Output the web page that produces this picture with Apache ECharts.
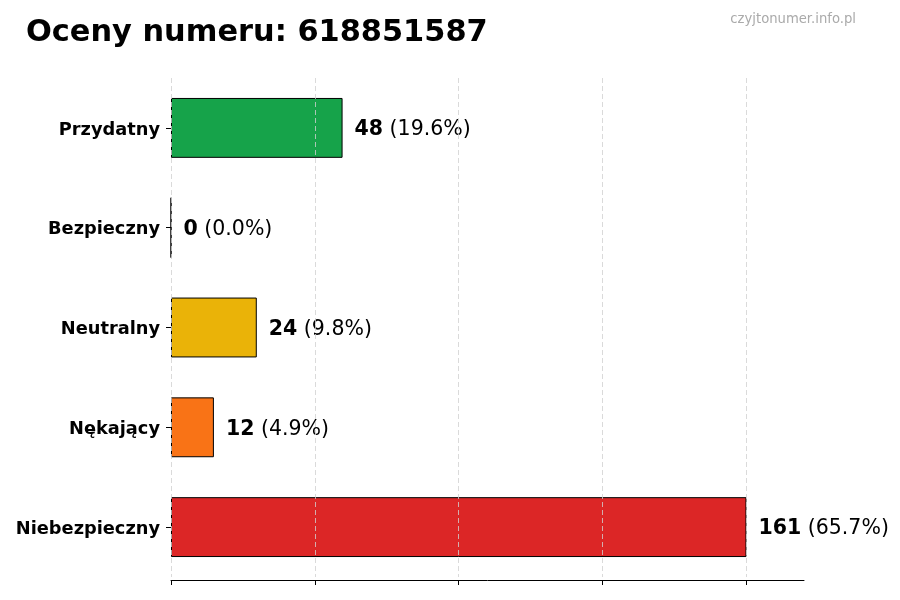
<!DOCTYPE html>
<html>
<head>
<meta charset="utf-8">
<script src="https://cdn.jsdelivr.net/npm/echarts@6/dist/echarts.min.js"></script>
<style>html,body{margin:0;padding:0;background:#fff}#c{width:900px;height:600px}</style>
</head>
<body>
<div id="c"></div>
<script>
var categories = ['Przydatny', 'Bezpieczny', 'Neutralny', 'Nękający', 'Niebezpieczny'];
var values = [48, 0, 24, 12, 161];
var percents = ['19.6', '0.0', '9.8', '4.9', '65.7'];
var colors = ['#16a34a', '#3b82f6', '#eab308', '#f97316', '#dc2626'];
var xTicks = [0, 40.25, 80.5, 120.75, 161];
var xMax = 177.1;

var chart = echarts.init(document.getElementById('c'));
var FONT = 'DejaVu Sans';
chart.setOption({
  animation: false,
  textStyle: { fontFamily: FONT },
  title: [
    { text: 'Oceny numeru: 618851587', left: 21, top: 13,
      textStyle: { fontFamily: FONT, fontSize: 30.4, fontWeight: 'bold', color: '#000' } },
    { text: 'czyjtonumer.info.pl', right: 39, top: 8,
      textStyle: { fontFamily: FONT, fontSize: 13.2, fontWeight: 'normal', color: '#aaaaaa' } }
  ],
  grid: { left: 171, right: 96, top: 78, bottom: 23, containLabel: false },
  xAxis: {
    type: 'value', min: 0, max: xMax, offset: 3, z: 5,
    axisLine: { show: true, lineStyle: { color: '#000', width: 1 } },
    axisTick: { show: true, length: 5, customValues: xTicks, lineStyle: { color: '#000' } },
    axisLabel: { show: false },
    splitLine: { show: true, lineStyle: { color: '#d0d0d0', type: [5, 3], width: 0.8 } }
  },
  yAxis: {
    type: 'category', data: categories, inverse: true,
    axisLine: { show: false },
    axisTick: { show: true, alignWithLabel: true, length: 5, lineStyle: { color: '#000' } },
    axisLabel: {
      margin: 11,
      formatter: function (v) { return '{c|' + v + '}'; },
      rich: { c: { fontFamily: FONT, fontSize: 17.8, fontWeight: 'bold', color: '#000', padding: [4, 0, 0, 0] } }
    }
  },
  series: [{
    type: 'bar',
    barWidth: '60%',
    data: values.map(function (v, i) {
      return { value: v, itemStyle: { color: colors[i] } };
    }),
    itemStyle: { borderColor: '#000', borderWidth: 1 },
    label: {
      show: true, position: 'right', distance: 12, offset: [0, 2],
      formatter: function (p) {
        return '{b|' + values[p.dataIndex] + '}{n| (' + percents[p.dataIndex] + '%)}';
      },
      rich: {
        b: { fontFamily: FONT, fontSize: 20.5, fontWeight: 'bold', color: '#000' },
        n: { fontFamily: FONT, fontSize: 20.5, color: '#000' }
      }
    }
  }]
});
</script>
</body>
</html>
